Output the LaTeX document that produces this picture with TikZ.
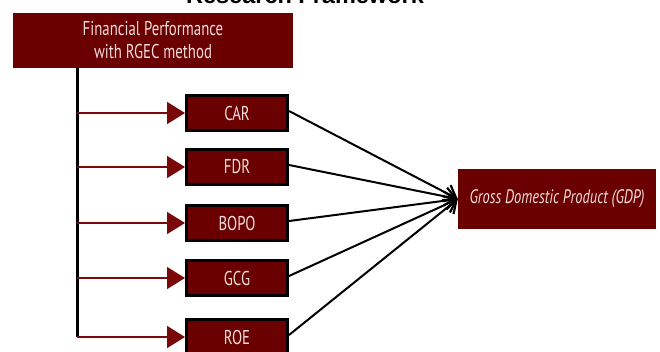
\documentclass[tikz,border=0pt]{standalone}
\usepackage{fontspec}
\setmainfont{PT Sans}[FakeStretch=0.74]
\newfontfamily\titlefont{Liberation Sans}
\usetikzlibrary{arrows.meta}
\definecolor{boxred}{HTML}{6A0000}
\definecolor{linered}{HTML}{7A0A0A}
\definecolor{txtpink}{HTML}{F2DCDC}
\tikzset{
  bigbox/.style={fill=boxred, text=txtpink, inner sep=0pt, align=center, font=\fontsize{20}{23}\selectfont},
  smallbox/.style={fill=boxred, draw=black, line width=3pt, text=txtpink, inner sep=0pt,
    minimum width=101pt, minimum height=35pt, font=\fontsize{20}{22}\selectfont},
  feed/.style={draw=linered, line width=1.5pt, -{Triangle[length=18pt,width=22pt]}},
  conv/.style={draw=black, line width=2pt, -{Straight Barb[length=11pt,width=18pt,line width=2.2pt]}},
}
\begin{document}
\begin{tikzpicture}[x=1pt,y=-1pt]
\useasboundingbox (0,0) rectangle (660,351);
\clip (0,0) rectangle (660,351);
\node[anchor=base, font=\titlefont\bfseries\fontsize{23.5}{28}\selectfont] (title) at (305,3.5) {Research Framework};
\node[bigbox, minimum width=280pt, minimum height=55pt] (top) at (153,40.5) {Financial Performance\\with RGEC method};
\node[smallbox] (car) at (237,113) {CAR};
\node[smallbox] (fdr) at (237,167) {FDR};
\node[smallbox] (bopo) at (237,223) {BOPO};
\node[smallbox] (gcg) at (237,278) {GCG};
\node[smallbox] (roe) at (237,337) {ROE};
\node[bigbox, minimum width=198pt, minimum height=60pt, font=\itshape\fontsize{19.5}{22}\selectfont] (gdp) at (557,199) {Gross Domestic Product (GDP)};
\coordinate (spinetop) at (77,68);
\coordinate (spinebot) at (77,337);
\draw[black, line width=3pt] (spinetop) -- (spinebot);
\foreach \n in {car,fdr,bopo,gcg,roe}
  \draw[feed] (spinetop |- \n.west) -- (\n.west);
\foreach \n in {car,fdr,bopo,gcg,roe}
  \draw[conv] ([yshift=2pt]\n.east) -- (gdp.west);
\end{tikzpicture}
\end{document}
